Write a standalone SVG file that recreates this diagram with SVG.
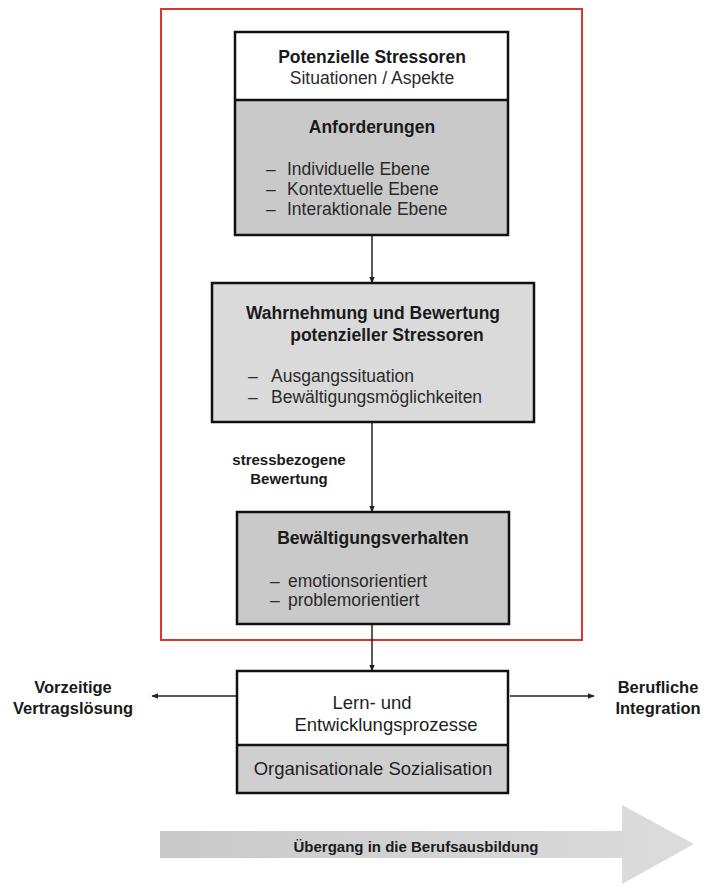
<svg xmlns="http://www.w3.org/2000/svg" width="707" height="887" viewBox="0 0 707 887">
<style>
text{font-family:"Liberation Sans",Arial,sans-serif;fill:#1a1a1a}
.b{font-weight:bold;font-size:17.5px}
.r{font-size:17.5px;fill:#2a2a2a}
.rb{font-size:18.5px;fill:#1f1f1f}
.lb{font-weight:bold;font-size:16.5px}
.sb{font-weight:bold;font-size:15px}
.box{stroke:#111;stroke-width:2.5}
.conn{stroke:#222;stroke-width:1.5;fill:none;marker-end:url(#ah)}
</style>
<defs>
<marker id="ah" viewBox="0 0 10 10" refX="9" refY="5" markerWidth="7" markerHeight="7" markerUnits="userSpaceOnUse" orient="auto">
<path d="M0,1 L10,5 L0,9 z" fill="#222"/>
</marker>
<linearGradient id="g" x1="0" y1="0" x2="1" y2="0">
<stop offset="0" stop-color="#c9c9c9"/>
<stop offset="1" stop-color="#dcdcdc"/>
</linearGradient>
</defs>
<rect width="707" height="887" fill="#fff"/>
<rect id="frame" x="161" y="9" width="421" height="631" fill="none" stroke="#d9372b" stroke-width="2"/>

<g id="transition">
<path d="M160,831 L622,831 L622,805 L694,844 L622,884 L622,858 L160,858 z" fill="url(#g)"/>
<text class="sb" x="416" y="852" text-anchor="middle">Übergang in die Berufsausbildung</text>
</g>

<g id="connectors">
<line class="conn" x1="372" y1="236" x2="372" y2="283"/>
<line class="conn" x1="372" y1="423" x2="372" y2="512"/>
<line class="conn" x1="372" y1="625" x2="372" y2="671"/>
<line class="conn" x1="236" y1="696" x2="152" y2="696"/>
<line class="conn" x1="510" y1="696" x2="594" y2="696"/>
<text class="sb" x="289" y="465" text-anchor="middle">stressbezogene</text>
<text class="sb" x="289" y="484" text-anchor="middle">Bewertung</text>
</g>

<g id="stressoren">
<rect x="235" y="32" width="273" height="68" fill="#fff"/>
<rect x="235" y="100" width="273" height="135" fill="#c9c9c9"/>
<rect class="box" x="235" y="32" width="273" height="203" fill="none"/>
<line class="box" x1="235" y1="100" x2="508" y2="100"/>
<text class="b" x="372" y="63" text-anchor="middle">Potenzielle Stressoren</text>
<text class="r" x="372" y="84" text-anchor="middle">Situationen / Aspekte</text>
<text class="b" x="372" y="133" text-anchor="middle">Anforderungen</text>
<text class="r"><tspan x="266" y="175">–</tspan><tspan x="287" y="175">Individuelle Ebene</tspan><tspan x="266" y="195">–</tspan><tspan x="287" y="195">Kontextuelle Ebene</tspan><tspan x="266" y="215">–</tspan><tspan x="287" y="215">Interaktionale Ebene</tspan></text>
</g>

<g id="wahrnehmung">
<rect class="box" x="212" y="283" width="322" height="139" fill="#dadada"/>
<text class="b" x="373" y="319" text-anchor="middle">Wahrnehmung und Bewertung</text>
<text class="b" x="387" y="341" text-anchor="middle">potenzieller Stressoren</text>
<text class="r"><tspan x="248" y="382">–</tspan><tspan x="271" y="382">Ausgangssituation</tspan><tspan x="248" y="403">–</tspan><tspan x="271" y="403">Bewältigungsmöglichkeiten</tspan></text>
</g>

<g id="bewaeltigung">
<rect class="box" x="237" y="512" width="272" height="112" fill="#c9c9c9"/>
<text class="b" x="373" y="544" text-anchor="middle">Bewältigungsverhalten</text>
<text class="r"><tspan x="270" y="587">–</tspan><tspan x="288" y="587">emotionsorientiert</tspan><tspan x="270" y="606">–</tspan><tspan x="288" y="606">problemorientiert</tspan></text>
</g>

<g id="lernen">
<rect x="237" y="671" width="271" height="74" fill="#fff"/>
<rect x="237" y="745" width="271" height="48" fill="#cfcfcf"/>
<rect class="box" x="237" y="671" width="271" height="122" fill="none"/>
<line class="box" x1="237" y1="745" x2="508" y2="745"/>
<text class="rb" x="372" y="709" text-anchor="middle">Lern- und</text>
<text class="rb" x="386" y="731" text-anchor="middle">Entwicklungsprozesse</text>
<text class="rb" x="373" y="775" text-anchor="middle">Organisationale Sozialisation</text>
</g>

<g id="vertragsloesung">
<text class="lb" x="73" y="693" text-anchor="middle">Vorzeitige</text>
<text class="lb" x="73" y="714" text-anchor="middle">Vertragslösung</text>
</g>

<g id="integration">
<text class="lb" x="658" y="693" text-anchor="middle">Berufliche</text>
<text class="lb" x="658" y="714" text-anchor="middle">Integration</text>
</g>
</svg>
